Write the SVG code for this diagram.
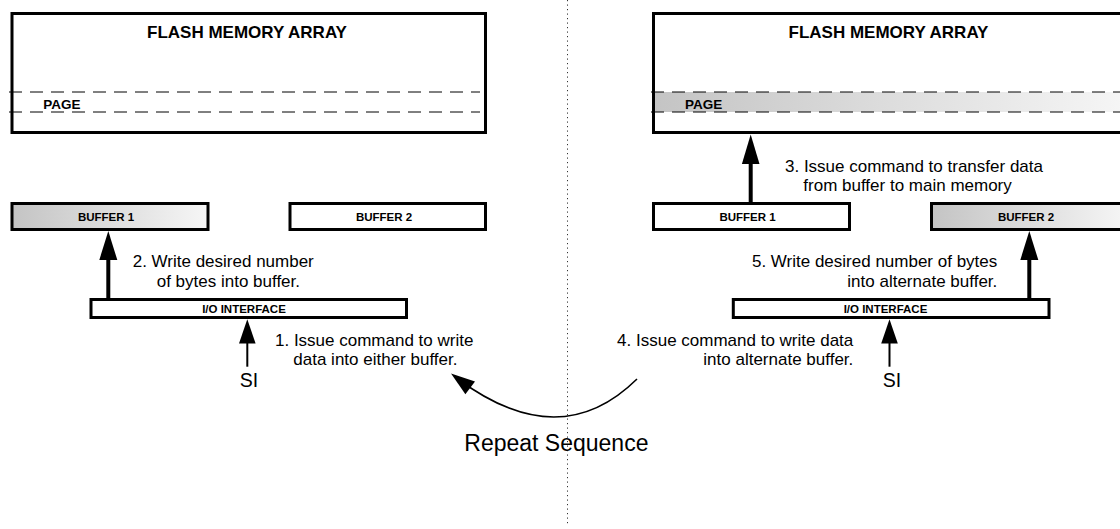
<svg xmlns="http://www.w3.org/2000/svg" width="1120" height="529" viewBox="0 0 1120 529">
  <style>
    .box { fill: none; stroke: #000; stroke-width: 3; }
    .bg { fill: #fff; }
    .dash { stroke: #000; stroke-width: 1; stroke-dasharray: 13 8; fill: none; }
    .title { font-family: "Liberation Sans", Arial, sans-serif; font-weight: bold; font-size: 17px; text-anchor: middle; fill: #000; }
    .page { font-family: "Liberation Sans", Arial, sans-serif; font-weight: bold; font-size: 13.5px; fill: #000; }
    .lbl { font-family: "Liberation Sans", Arial, sans-serif; font-weight: bold; font-size: 11.5px; text-anchor: middle; fill: #000; }
    .note { font-family: "Liberation Sans", Arial, sans-serif; font-size: 17px; fill: #000; }
    .end { text-anchor: end; }
    .si { font-family: "Liberation Sans", Arial, sans-serif; font-size: 19.5px; text-anchor: middle; fill: #000; }
    .rep { font-family: "Liberation Sans", Arial, sans-serif; font-size: 23px; fill: #000; }
    .thick { stroke: #000; stroke-width: 4; fill: none; }
    .thin { stroke: #000; stroke-width: 2; fill: none; }
    .curve { stroke: #000; stroke-width: 1.6; fill: none; }
    .head { fill: #000; stroke: none; }
  </style>
  <defs>
    <linearGradient id="grad" x1="0" y1="0" x2="1" y2="0">
      <stop offset="0" stop-color="#c4c4c4"/>
      <stop offset="1" stop-color="#f6f6f6"/>
    </linearGradient>
  </defs>
  <rect x="0" y="0" width="1120" height="529" fill="#fff"/>

  <!-- divider -->
  <line id="divider" x1="567.5" y1="0" x2="567.5" y2="526" stroke="#333" stroke-width="1" stroke-dasharray="1.2 3.3"/>

  <g id="left-flash-array">
    <rect class="bg" x="12" y="13.5" width="473.5" height="119"/>
    <line class="dash" x1="9" y1="92" x2="480" y2="92"/>
    <line class="dash" x1="9" y1="112" x2="480" y2="112"/>
    <rect class="box" x="12" y="13.5" width="473.5" height="119"/>
    <text class="title" x="247" y="38.3">FLASH MEMORY ARRAY</text>
    <text class="page" x="43.3" y="109">PAGE</text>
  </g>

  <g id="left-buffer1">
    <rect x="12" y="203.5" width="196" height="26" fill="url(#grad)" stroke="#000" stroke-width="3"/>
    <text class="lbl" x="106" y="220.7">BUFFER 1</text>
  </g>
  <g id="left-buffer2">
    <rect class="box" x="290" y="203.5" width="195.5" height="26"/>
    <text class="lbl" x="384" y="220.7">BUFFER 2</text>
  </g>
  <g id="left-io">
    <rect class="box" x="91" y="299.5" width="315.5" height="18"/>
    <text class="lbl" x="244" y="312.7">I/O INTERFACE</text>
  </g>

  <g id="right-flash-array">
    <rect class="bg" x="653.5" y="13.5" width="473.5" height="119"/>
    <rect x="653.5" y="92" width="473.5" height="20" fill="url(#grad)"/>
    <line class="dash" x1="651" y1="92" x2="1120" y2="92"/>
    <line class="dash" x1="651" y1="112" x2="1120" y2="112"/>
    <rect class="box" x="653.5" y="13.5" width="473.5" height="119"/>
    <text class="title" x="888.5" y="38.3">FLASH MEMORY ARRAY</text>
    <text class="page" x="685" y="109">PAGE</text>
  </g>

  <g id="right-buffer1">
    <rect class="box" x="653.5" y="203.5" width="196" height="26"/>
    <text class="lbl" x="747.5" y="220.7">BUFFER 1</text>
  </g>
  <g id="right-buffer2">
    <rect x="931.5" y="203.5" width="196" height="26" fill="url(#grad)" stroke="#000" stroke-width="3"/>
    <text class="lbl" x="1026" y="220.7">BUFFER 2</text>
  </g>
  <g id="right-io">
    <rect class="box" x="733.3" y="299.5" width="315.7" height="18"/>
    <text class="lbl" x="885.5" y="312.7">I/O INTERFACE</text>
  </g>

  <g id="connectors">
    <!-- step 2: I/O to buffer 1 (left) -->
    <line class="thick" x1="108.3" y1="298" x2="108.3" y2="258"/>
    <polygon class="head" points="108.3,231 99.3,260 117.3,260"/>
    <!-- step 1: SI to I/O (left) -->
    <line class="thin" x1="247.3" y1="366.7" x2="247.3" y2="342"/>
    <polygon class="head" points="247.3,319.3 239,343.5 255.6,343.5"/>
    <!-- step 3: buffer 1 to flash (right) -->
    <line class="thick" x1="750.7" y1="202" x2="750.7" y2="163"/>
    <polygon class="head" points="750.7,134.5 741.9,164 759.5,164"/>
    <!-- step 5: I/O to buffer 2 (right) -->
    <line class="thick" x1="1029.3" y1="298" x2="1029.3" y2="258"/>
    <polygon class="head" points="1029.3,231 1020.3,260 1038.3,260"/>
    <!-- step 4: SI to I/O (right) -->
    <line class="thin" x1="889.5" y1="366.7" x2="889.5" y2="342"/>
    <polygon class="head" points="889.5,319.3 881.2,343.5 897.8,343.5"/>
    <!-- repeat sequence curve -->
    <path class="curve" d="M637,379 Q560,455 458,379"/>
    <polygon class="head" points="451,373.5 475,381.5 465.4,394.3"/>
  </g>

  <g id="annotations">
    <text class="note" x="132.7" y="267">2. Write desired number</text>
    <text class="note" x="156.7" y="286.7">of bytes into buffer.</text>
    <text class="note" x="275" y="346">1. Issue command to write</text>
    <text class="note" x="293.3" y="365">data into either buffer.</text>
    <text class="note" x="785" y="172">3. Issue command to transfer data</text>
    <text class="note" x="803.3" y="191">from buffer to main memory</text>
    <text class="note end" x="997.3" y="266.5">5. Write desired number of bytes</text>
    <text class="note end" x="997.3" y="286.7">into alternate buffer.</text>
    <text class="note end" x="853.3" y="346">4. Issue command to write data</text>
    <text class="note end" x="853.3" y="365">into alternate buffer.</text>
    <text class="si" x="249" y="386.7">SI</text>
    <text class="si" x="892" y="386.7">SI</text>
    <text class="rep" x="464.3" y="450.7">Repeat Sequence</text>
  </g>
</svg>
